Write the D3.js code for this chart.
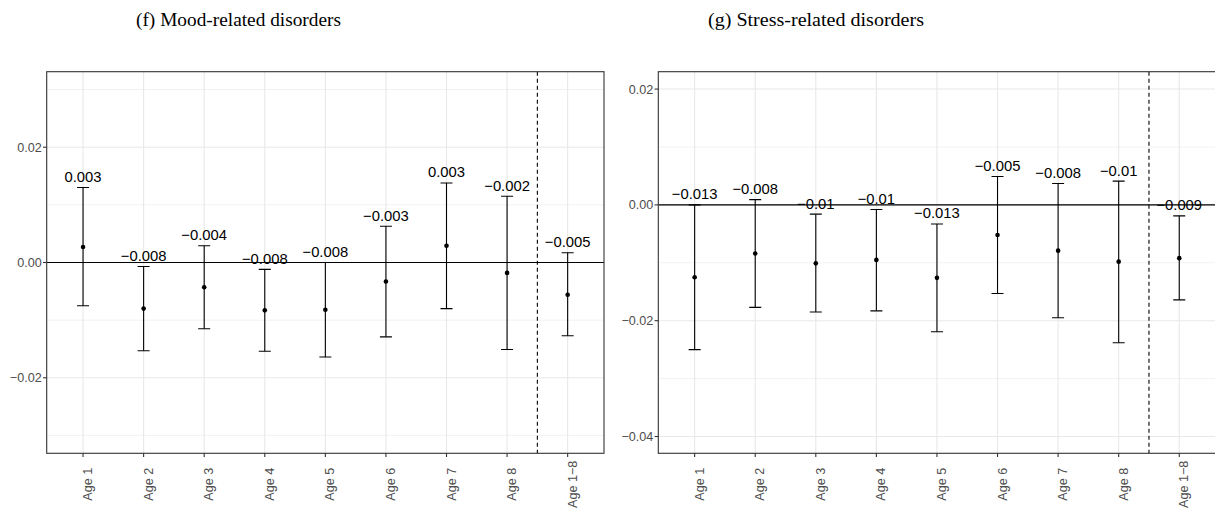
<!DOCTYPE html>
<html>
<head>
<meta charset="utf-8">
<script src="https://cdn.jsdelivr.net/npm/d3@7"></script>
<style>
  html, body { margin: 0; padding: 0; background: #ffffff; }
  svg { display: block; }
</style>
</head>
<body>
<script>
// ---------- data ----------
const categories = ["Age 1", "Age 2", "Age 3", "Age 4", "Age 5", "Age 6", "Age 7", "Age 8", "Age 1\u22128"];

const moodTitle = "(f) Mood-related disorders";
const moodEst  = [0.0027, -0.0080, -0.0043, -0.0083, -0.0082, -0.0033, 0.0029, -0.0018, -0.0056];
const moodLow  = [-0.0075, -0.0153, -0.0115, -0.0154, -0.0164, -0.0129, -0.0080, -0.0151, -0.0127];
const moodHigh = [0.0130, -0.0007, 0.0029, -0.0012, 0.0000, 0.0063, 0.0138, 0.0115, 0.0017];
const moodLabels = ["0.003", "\u22120.008", "\u22120.004", "\u22120.008", "\u22120.008", "\u22120.003", "0.003", "\u22120.002", "\u22120.005"];
const moodDomain = [-0.0331, 0.0331];
const moodMajorTicks = [-0.02, 0, 0.02];
const moodMinorTicks = [-0.03, -0.01, 0.01, 0.03];
const moodTickLabels = ["\u22120.02", "0.00", "0.02"];

const stressTitle = "(g) Stress-related disorders";
const stressEst  = [-0.0125, -0.0084, -0.0101, -0.0095, -0.0126, -0.0052, -0.0079, -0.0098, -0.0092];
const stressLow  = [-0.0250, -0.0177, -0.0185, -0.0183, -0.0219, -0.0153, -0.0195, -0.0238, -0.0164];
const stressHigh = [0.0000, 0.0009, -0.0016, -0.0008, -0.0033, 0.0049, 0.0037, 0.0041, -0.0019];
const stressLabels = ["\u22120.013", "\u22120.008", "\u22120.01", "\u22120.01", "\u22120.013", "\u22120.005", "\u22120.008", "\u22120.01", "\u22120.009"];
const stressDomain = [-0.0429, 0.0230];
const stressMajorTicks = [-0.04, -0.02, 0, 0.02];
const stressMinorTicks = [-0.03, -0.01, 0.01];
const stressTickLabels = ["\u22120.04", "\u22120.02", "0.00", "0.02"];

// ---------- drawing ----------
const W = 1215, H = 511;
const SANS = "'Liberation Sans', Arial, Helvetica, sans-serif";
const SERIF = "'Liberation Serif', 'Times New Roman', serif";
const svg = d3.select("body").append("svg").attr("width", W).attr("height", H);

function panel(opts) {
  const { x0, x1, y0, y1, est, low, high, labels, domain, major, minor, tickLabels, title, titleX, titleW } = opts;
  const g = svg.append("g");
  const x = d3.scalePoint().domain(categories).range([x0, x1]).padding(0.6);
  const y = d3.scaleLinear().domain(domain).range([y1, y0]);

  const clipId = "clip" + Math.round(x0);
  svg.append("clipPath").attr("id", clipId).append("rect")
    .attr("x", x0).attr("y", y0).attr("width", x1 - x0).attr("height", y1 - y0);
  const inner = g.append("g").attr("clip-path", `url(#${clipId})`);

  // minor grid
  inner.selectAll(".minor").data(minor).join("line")
    .attr("x1", x0).attr("x2", x1).attr("y1", d => y(d)).attr("y2", d => y(d))
    .attr("stroke", "#F2F2F2").attr("stroke-width", 1);
  // major grid
  inner.selectAll(".majorY").data(major).join("line")
    .attr("x1", x0).attr("x2", x1).attr("y1", d => y(d)).attr("y2", d => y(d))
    .attr("stroke", "#E8E8E8").attr("stroke-width", 1.1);
  inner.selectAll(".majorX").data(categories).join("line")
    .attr("x1", d => x(d)).attr("x2", d => x(d)).attr("y1", y0).attr("y2", y1)
    .attr("stroke", "#E8E8E8").attr("stroke-width", 1.1);

  // zero line
  inner.append("line").attr("x1", x0).attr("x2", x1).attr("y1", y(0)).attr("y2", y(0))
    .attr("stroke", "#000").attr("stroke-width", 1.1);

  // dashed separator between Age 8 and Age 1-8
  const xs = (x(categories[7]) + x(categories[8])) / 2;
  inner.append("line").attr("x1", xs).attr("x2", xs).attr("y1", y0).attr("y2", y1)
    .attr("stroke", "#000").attr("stroke-width", 1.1).attr("stroke-dasharray", "4,3");

  const idx = d3.range(categories.length);
  // error bars
  inner.selectAll(".eb").data(idx).join("line")
    .attr("x1", i => x(categories[i])).attr("x2", i => x(categories[i]))
    .attr("y1", i => y(low[i])).attr("y2", i => y(high[i]))
    .attr("stroke", "#000").attr("stroke-width", 1.1);
  inner.selectAll(".capH").data(idx).join("line")
    .attr("x1", i => x(categories[i]) - 6).attr("x2", i => x(categories[i]) + 6)
    .attr("y1", i => y(high[i])).attr("y2", i => y(high[i]))
    .attr("stroke", "#000").attr("stroke-width", 1.1);
  inner.selectAll(".capL").data(idx).join("line")
    .attr("x1", i => x(categories[i]) - 6).attr("x2", i => x(categories[i]) + 6)
    .attr("y1", i => y(low[i])).attr("y2", i => y(low[i]))
    .attr("stroke", "#000").attr("stroke-width", 1.1);
  // points
  inner.selectAll(".pt").data(idx).join("circle")
    .attr("cx", i => x(categories[i])).attr("cy", i => y(est[i])).attr("r", 2.3)
    .attr("fill", "#000");
  // labels
  inner.selectAll(".lab").data(idx).join("text")
    .attr("x", i => x(categories[i])).attr("y", i => y(high[i]) - 5.5)
    .attr("text-anchor", "middle")
    .attr("font-family", SANS).attr("font-size", 14.8)
    .attr("fill", "#000")
    .text(i => labels[i]);

  // panel border
  g.append("rect").attr("x", x0).attr("y", y0).attr("width", x1 - x0).attr("height", y1 - y0)
    .attr("fill", "none").attr("stroke", "#333333").attr("stroke-width", 1.1);

  // y ticks
  g.selectAll(".yt").data(major).join("line")
    .attr("x1", x0 - 3.7).attr("x2", x0).attr("y1", d => y(d)).attr("y2", d => y(d))
    .attr("stroke", "#333333").attr("stroke-width", 1.1);
  g.selectAll(".ytl").data(major).join("text")
    .attr("x", x0 - 5).attr("y", d => y(d)).attr("dy", "0.36em")
    .attr("text-anchor", "end")
    .attr("font-family", SANS).attr("font-size", 12.6)
    .attr("fill", "#4D4D4D")
    .text((d, i) => tickLabels[i]);

  // x ticks
  g.selectAll(".xt").data(categories).join("line")
    .attr("x1", d => x(d)).attr("x2", d => x(d)).attr("y1", y1).attr("y2", y1 + 3.7)
    .attr("stroke", "#333333").attr("stroke-width", 1.1);
  g.selectAll(".xtl").data(categories).join("text")
    .attr("transform", d => `translate(${x(d) + 9},${y1 + 31}) rotate(-90)`)
    .attr("text-anchor", "middle")
    .attr("font-family", SANS).attr("font-size", 12.6)
    .attr("fill", "#4D4D4D")
    .text(d => d);

  // title
  svg.append("text").attr("x", titleX).attr("y", 26)
    .attr("font-family", SERIF)
    .attr("font-size", 19.8)
    .attr("textLength", titleW).attr("lengthAdjust", "spacingAndGlyphs")
    .attr("fill", "#000")
    .text(title);
}

panel({
  x0: 46.7, x1: 604, y0: 71.7, y1: 453.3,
  est: moodEst, low: moodLow, high: moodHigh, labels: moodLabels,
  domain: moodDomain, major: moodMajorTicks, minor: moodMinorTicks, tickLabels: moodTickLabels,
  title: moodTitle, titleX: 136, titleW: 205
});

panel({
  x0: 658.3, x1: 1215.6, y0: 71.7, y1: 453.3,
  est: stressEst, low: stressLow, high: stressHigh, labels: stressLabels,
  domain: stressDomain, major: stressMajorTicks, minor: stressMinorTicks, tickLabels: stressTickLabels,
  title: stressTitle, titleX: 708, titleW: 216
});
</script>
</body>
</html>
